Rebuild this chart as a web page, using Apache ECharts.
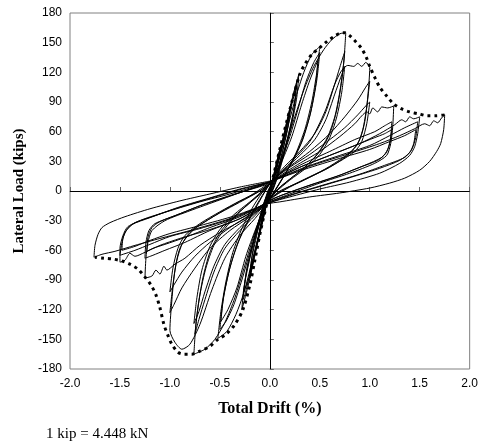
<!DOCTYPE html>
<html>
<head>
<meta charset="utf-8">
<script src="https://cdn.jsdelivr.net/npm/echarts@6/dist/echarts.min.js"></script>
<style>
  html, body { margin: 0; padding: 0; background: #fff; }
  #chart { width: 481px; height: 447px; }
</style>
</head>
<body>
<div id="chart"></div>
<script>
  // drift (%) vs lateral load (kips)
  const cycle010 = [
    [0, 0], [0.03, 12], [0.07, 30], [0.11, 46], [0.09, 35], [0.05, 16], [0.01, 2], [-0.03, -12], [-0.07, -30], [-0.11, -45],
    [-0.09, -33], [-0.05, -15], [-0.01, -2], [0.02, 8], [0.06, 26], [0.1, 42], [0.08, 30], [0.04, 12], [0, 0], [-0.04, -15],
    [-0.08, -32], [-0.1, -41], [-0.08, -28], [-0.04, -12], [0, 0]
  ]
  const cycle020 = [
    [0, 0], [0.04, 15], [0.1, 40], [0.16, 65], [0.21, 88], [0.19, 70], [0.14, 45], [0.08, 20], [0.02, 2], [-0.03, -12],
    [-0.08, -35], [-0.14, -60], [-0.2, -88], [-0.18, -68], [-0.12, -40], [-0.06, -15], [-0.01, 0], [0.03, 10],
    [0.09, 32], [0.15, 58], [0.2, 82], [0.18, 64], [0.12, 38], [0.06, 14], [0, -2], [-0.05, -18], [-0.11, -44],
    [-0.17, -70], [-0.2, -83], [-0.17, -60], [-0.1, -30], [-0.04, -8], [0.01, 5]
  ]
  const cycle030 = [
    [0.01, 5], [0.06, 22], [0.12, 48], [0.18, 75], [0.24, 100], [0.29, 118], [0.27, 95], [0.22, 68], [0.15, 40], [0.08, 15],
    [0.02, -2], [-0.04, -15], [-0.1, -42], [-0.16, -70], [-0.22, -97], [-0.28, -120], [-0.26, -98], [-0.2, -68], [-0.13, -38],
    [-0.06, -12], [0, 2], [0.04, 12], [0.1, 36], [0.16, 62], [0.22, 90], [0.27, 110], [0.25, 88], [0.2, 62], [0.13, 35],
    [0.06, 10], [0, -5], [-0.06, -22], [-0.12, -50], [-0.19, -80], [-0.25, -105], [-0.27, -110], [-0.24, -85], [-0.17, -55],
    [-0.1, -28], [-0.03, -5], [0.02, 8], [0.08, 28], [0.15, 56], [0.21, 83], [0.26, 104], [0.24, 82], [0.18, 55], [0.11, 28],
    [0.04, 5], [-0.02, -10], [-0.08, -32], [-0.15, -62], [-0.21, -88], [-0.26, -102], [-0.23, -78], [-0.16, -48], [-0.08, -20],
    [-0.02, 0], [0.03, 10]
  ]
  const cycle050 = [
    [0.03, 10], [0.1, 35], [0.18, 65], [0.26, 95], [0.34, 120], [0.42, 138], [0.5, 146], [0.47, 120], [0.42, 90], [0.35, 62],
    [0.26, 38], [0.16, 18], [0.06, 2], [0, -8], [-0.04, -15], [-0.1, -40], [-0.18, -72], [-0.26, -103], [-0.34, -125],
    [-0.43, -142], [-0.52, -149], [-0.49, -122], [-0.44, -92], [-0.37, -62], [-0.28, -38], [-0.18, -18], [-0.08, -2], [0, 8],
    [0.04, 13], [0.12, 32], [0.2, 55], [0.28, 82], [0.36, 110], [0.44, 130], [0.5, 140], [0.47, 112], [0.41, 80], [0.33, 52],
    [0.23, 30], [0.12, 12], [0.03, -3], [-0.03, -13], [-0.12, -38], [-0.2, -62], [-0.28, -90], [-0.36, -115], [-0.44, -132],
    [-0.5, -140], [-0.47, -112], [-0.41, -82], [-0.33, -55], [-0.23, -32], [-0.12, -12], [-0.03, 3], [0.03, 12],
    [0.12, 30], [0.22, 55], [0.32, 88], [0.4, 112], [0.48, 132], [0.46, 108], [0.4, 76], [0.31, 48], [0.2, 26], [0.1, 8],
    [0.02, -5], [-0.04, -14], [-0.14, -38], [-0.24, -66], [-0.33, -98], [-0.42, -120], [-0.49, -132], [-0.46, -105],
    [-0.39, -74], [-0.3, -48], [-0.19, -26], [-0.09, -8], [-0.01, 6], [0.04, 13]
  ]
  const cycle075 = [
    [0.04, 13], [0.14, 40], [0.24, 72], [0.34, 102], [0.44, 126], [0.54, 143], [0.62, 153], [0.7, 159], [0.76, 160],
    [0.74, 130], [0.7, 100], [0.65, 75], [0.58, 55], [0.48, 38], [0.35, 24], [0.2, 12], [0.08, 2], [0, -8], [-0.05, -15],
    [-0.15, -42], [-0.25, -75], [-0.35, -108], [-0.45, -133], [-0.55, -150], [-0.65, -160], [-0.76, -165], [-0.74, -135],
    [-0.7, -105], [-0.64, -78], [-0.56, -55], [-0.45, -38], [-0.32, -23], [-0.18, -10], [-0.06, 2], [0.02, 10],
    [0.15, 25], [0.3, 40], [0.45, 58], [0.56, 80], [0.64, 105], [0.7, 125], [0.75, 141], [0.72, 112], [0.67, 82], [0.6, 58],
    [0.5, 40], [0.36, 25], [0.2, 12], [0.06, 0], [-0.02, -10], [-0.15, -25], [-0.3, -40], [-0.45, -58], [-0.56, -82],
    [-0.65, -110], [-0.71, -130], [-0.75, -145], [-0.72, -118], [-0.67, -88], [-0.6, -62], [-0.5, -42], [-0.36, -26],
    [-0.2, -12], [-0.06, 0], [0.02, 9], [0.15, 22], [0.3, 36], [0.45, 52], [0.56, 72], [0.65, 98], [0.71, 115], [0.75, 126],
    [0.72, 100], [0.67, 75], [0.6, 54], [0.5, 37], [0.36, 23], [0.2, 11], [0.06, -1], [-0.02, -11], [-0.15, -23], [-0.3, -37],
    [-0.45, -54], [-0.56, -76], [-0.65, -102], [-0.71, -122], [-0.76, -134], [-0.73, -108], [-0.68, -80], [-0.6, -56],
    [-0.5, -39], [-0.36, -24], [-0.2, -11], [-0.06, 1], [0.02, 10]
  ]
  const cycle100 = [
    [0.02, 10], [0.2, 28], [0.4, 50], [0.55, 80], [0.65, 108], [0.72, 122], [0.78, 127], [0.84, 126], [0.88, 129], [0.92, 126],
    [0.96, 130], [1.0, 125], [0.98, 95], [0.95, 70], [0.9, 52], [0.8, 38], [0.6, 24], [0.4, 14], [0.2, 4], [0.05, -5], [-0.02, -12],
    [-0.15, -28], [-0.3, -45], [-0.45, -68], [-0.58, -100], [-0.7, -135], [-0.8, -155], [-0.88, -160], [-0.95, -153], [-1.0, -141],
    [-0.98, -110], [-0.95, -80], [-0.9, -58], [-0.8, -42], [-0.6, -28], [-0.4, -16], [-0.2, -5], [-0.05, 5], [0.02, 11],
    [0.2, 25], [0.4, 40], [0.6, 58], [0.75, 75], [0.88, 92], [0.96, 105], [1.0, 111], [0.97, 85], [0.93, 62], [0.87, 46],
    [0.75, 35], [0.55, 22], [0.35, 12], [0.15, 2], [0, -8], [-0.03, -12], [-0.2, -26], [-0.4, -40], [-0.6, -58], [-0.75, -78],
    [-0.88, -98], [-0.96, -115], [-1.0, -123], [-0.97, -95], [-0.93, -70], [-0.87, -52], [-0.75, -38], [-0.55, -25],
    [-0.35, -14], [-0.15, -3], [0, 7], [0.03, 11], [0.2, 24], [0.4, 37], [0.6, 52], [0.75, 64], [0.88, 77], [0.96, 86],
    [1.0, 90], [0.97, 68], [0.92, 50], [0.85, 40], [0.7, 30], [0.5, 19], [0.3, 9], [0.1, 0], [-0.02, -10], [-0.2, -24],
    [-0.4, -37], [-0.6, -52], [-0.75, -66], [-0.88, -82], [-0.96, -95], [-1.0, -102], [-0.97, -78], [-0.92, -58],
    [-0.85, -45], [-0.7, -33], [-0.5, -21], [-0.3, -10], [-0.1, 0], [0.02, 10]
  ]
  const cycle125 = [
    [0.02, 10], [0.25, 25], [0.5, 40], [0.7, 55], [0.85, 68], [0.92, 76], [0.97, 80], [1.0, 78], [1.03, 84], [1.08, 80],
    [1.12, 85], [1.18, 84], [1.24, 86], [1.23, 65], [1.21, 48], [1.17, 36], [1.05, 28], [0.8, 18], [0.5, 8], [0.2, -3],
    [0.02, -10], [-0.03, -13], [-0.25, -28], [-0.5, -42], [-0.7, -55], [-0.85, -68], [-0.95, -74], [-1.03, -80], [-1.06, -76],
    [-1.1, -84], [-1.14, -80], [-1.18, -86], [-1.25, -88], [-1.24, -68], [-1.22, -52], [-1.18, -40], [-1.05, -30], [-0.8, -20],
    [-0.5, -9], [-0.2, 2], [0.02, 10], [0.3, 26], [0.6, 40], [0.85, 52], [1.05, 60], [1.15, 66], [1.22, 70], [1.21, 55],
    [1.18, 42], [1.12, 34], [0.95, 26], [0.7, 16], [0.4, 6], [0.1, -5], [-0.02, -11], [-0.3, -28], [-0.6, -40], [-0.85, -52],
    [-1.05, -60], [-1.17, -65], [-1.25, -68], [-1.24, -52], [-1.21, -40], [-1.15, -33], [-0.95, -25], [-0.7, -15], [-0.4, -5],
    [-0.1, 5], [0.02, 10], [0.3, 24], [0.6, 36], [0.85, 46], [1.05, 54], [1.15, 58], [1.22, 62], [1.2, 48], [1.16, 38],
    [1.08, 31], [0.9, 24], [0.65, 14], [0.35, 4], [0.05, -7], [-0.02, -11], [-0.3, -26], [-0.6, -37], [-0.85, -47],
    [-1.05, -54], [-1.17, -58], [-1.23, -61], [-1.22, -47], [-1.18, -37], [-1.1, -31], [-0.9, -23], [-0.65, -13], [-0.35, -3],
    [-0.05, 6], [0.02, 10]
  ]
  const cycle150 = [
    [0.02, 10], [0.3, 24], [0.6, 36], [0.9, 48], [1.1, 58], [1.25, 67], [1.32, 72], [1.36, 70], [1.4, 75], [1.44, 73],
    [1.5, 75], [1.48, 58], [1.45, 45], [1.4, 36], [1.3, 28], [1.1, 18], [0.8, 9], [0.5, 2], [0.2, -6], [0, -12],
    [-0.3, -28], [-0.6, -39], [-0.9, -48], [-1.1, -55], [-1.25, -62], [-1.35, -66], [-1.4, -63], [-1.45, -70], [-1.5, -72],
    [-1.5, -58], [-1.47, -45], [-1.42, -36], [-1.25, -28], [-1.0, -20], [-0.7, -11], [-0.4, -3], [-0.1, 6], [0.02, 10],
    [0.35, 24], [0.7, 36], [1.0, 46], [1.2, 56], [1.35, 64], [1.48, 70], [1.46, 54], [1.42, 42], [1.35, 34], [1.15, 26],
    [0.9, 17], [0.6, 8], [0.3, -1], [0.05, -9], [-0.02, -12], [-0.35, -27], [-0.7, -38], [-1.0, -46], [-1.2, -54],
    [-1.35, -60], [-1.5, -65], [-1.48, -52], [-1.45, -42], [-1.38, -34], [-1.2, -27], [-0.95, -18], [-0.65, -9], [-0.35, 0],
    [-0.05, 8], [0.02, 10], [0.35, 22], [0.7, 33], [1.0, 42], [1.2, 50], [1.35, 56], [1.46, 62], [1.44, 48], [1.4, 39],
    [1.3, 31], [1.1, 23], [0.85, 15], [0.55, 6], [0.25, -3], [0.02, -11], [-0.35, -25], [-0.7, -35], [-1.0, -43], [-1.2, -50],
    [-1.35, -56], [-1.48, -60], [-1.47, -48], [-1.43, -39], [-1.35, -32], [-1.15, -25], [-0.9, -16], [-0.6, -7], [-0.3, 2],
    [0, 9], [0.02, 10]
  ]
  const cycle175 = [
    [0.02, 10], [0.4, 25], [0.8, 38], [1.1, 48], [1.3, 56], [1.45, 63], [1.55, 68], [1.6, 66], [1.64, 71], [1.68, 69],
    [1.72, 74], [1.75, 77], [1.74, 62], [1.71, 48], [1.67, 40], [1.6, 30], [1.5, 21], [1.35, 13], [1.2, 8], [1.0, 3],
    [0.7, -2], [0.4, -6], [0.1, -11], [-0.02, -13], [-0.4, -28], [-0.8, -40], [-1.1, -48], [-1.35, -55], [-1.55, -61],
    [-1.68, -64], [-1.76, -67], [-1.75, -55], [-1.72, -44], [-1.68, -37], [-1.6, -32], [-1.45, -26], [-1.2, -18], [-0.9, -10],
    [-0.6, -3], [-0.3, 4], [0, 10]
  ]
  // dotted backbone envelope
  const envelopePos = [
    [0, 0], [0.1, 42], [0.2, 82], [0.3, 118], [0.35, 128], [0.42, 138], [0.5, 145], [0.57, 151], [0.64, 156], [0.7, 159.5],
    [0.75, 160], [0.8, 157], [0.86, 151], [0.92, 144], [0.97, 134], [1.0, 126], [1.05, 115], [1.1, 105], [1.17, 96],
    [1.24, 88], [1.32, 83], [1.4, 80], [1.49, 78], [1.58, 76], [1.66, 76], [1.75, 77]
  ]
  const envelopeNeg = [
    [0, 0], [-0.09, -39], [-0.15, -70], [-0.2, -95], [-0.27, -120], [-0.35, -135], [-0.44, -145], [-0.52, -150], [-0.6, -157],
    [-0.7, -162], [-0.78, -165], [-0.86, -165], [-0.92, -163], [-0.98, -155], [-1.02, -146], [-1.06, -135], [-1.1, -118],
    [-1.14, -105], [-1.19, -95], [-1.25, -87], [-1.32, -79], [-1.4, -74], [-1.47, -71], [-1.56, -69], [-1.66, -68], [-1.75, -67]
  ]

  const loops = [cycle010, cycle020, cycle030, cycle050, cycle075, cycle100, cycle125, cycle150, cycle175]

  const chart = echarts.init(document.getElementById('chart'), null, { renderer: 'canvas' })

  const serif = '"Liberation Serif", "Times New Roman", serif'
  const sans = '"Liberation Sans", Arial, sans-serif'

  const series = loops.map(function (d, i) {
    return {
      name: 'loop' + i,
      type: 'line',
      data: d,
      showSymbol: false,
      smooth: 0.25,
      lineStyle: { color: '#000', width: 1 },
      z: 3
    }
  })
  series.push({
    name: 'axes',
    type: 'line',
    data: [],
    markLine: {
      silent: true,
      symbol: 'none',
      label: { show: false },
      lineStyle: { color: '#000', width: 1, type: 'solid' },
      data: [{ xAxis: 0 }, { yAxis: 0 }]
    },
    z: 2
  })
  ;[envelopePos, envelopeNeg].forEach(function (d, i) {
    series.push({
      name: 'envelope' + i,
      type: 'line',
      data: d,
      showSymbol: false,
      smooth: 0.3,
      lineStyle: { color: '#000', width: 3, type: [3, 4], cap: 'butt' },
      z: 4
    })
  })

  chart.setOption({
    animation: false,
    backgroundColor: '#fff',
    grid: {
      left: 70, right: 9, top: 13, bottom: 78,
      show: true, borderColor: '#808080', borderWidth: 1
    },
    xAxis: {
      type: 'value',
      min: -2, max: 2, interval: 0.5,
      name: 'Total Drift (%)',
      nameLocation: 'middle',
      nameGap: 32,
      nameTextStyle: { fontFamily: serif, fontWeight: 'bold', fontSize: 16, color: '#000' },
      axisLine: { show: true, lineStyle: { color: '#666' } },
      axisTick: { show: true, inside: true, length: 4, lineStyle: { color: '#666' } },
      axisLabel: {
        fontFamily: sans, fontSize: 12, color: '#000', margin: 9,
        formatter: function (v) { return v.toFixed(1) }
      },
      splitLine: { show: false }
    },
    yAxis: {
      type: 'value',
      min: -180, max: 180, interval: 30,
      name: 'Lateral Load (kips)',
      nameLocation: 'middle',
      nameGap: 40,
      nameTextStyle: { fontFamily: serif, fontWeight: 'bold', fontSize: 15, color: '#000' },
      axisLine: { show: true, lineStyle: { color: '#666' } },
      axisTick: { show: true, inside: true, length: 4, lineStyle: { color: '#666' } },
      axisLabel: { fontFamily: sans, fontSize: 12, color: '#000', margin: 8 },
      splitLine: { show: false }
    },
    graphic: [{
      type: 'text',
      left: 46,
      top: 427,
      style: { text: '1 kip = 4.448 kN', font: '15px ' + serif, fill: '#000' }
    }],
    series: series
  })
</script>
</body>
</html>
